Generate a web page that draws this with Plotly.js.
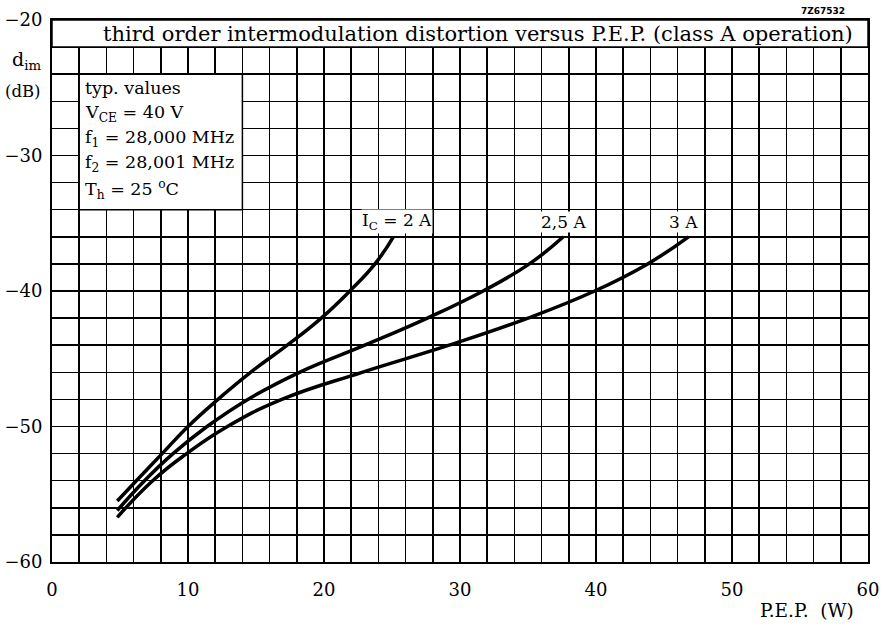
<!DOCTYPE html>
<html><head><meta charset="utf-8">
<script src="https://cdn.plot.ly/plotly-3.0.1.min.js"></script>
<style>html,body{margin:0;padding:0;background:#fff}</style>
</head><body><div id="chart" style="width:883px;height:627px"></div>
<script>
// P.E.P. (W) and d_im (dB) for each collector current
const pep2A   = [4.8, 6.2, 8.1, 10.0, 12.2, 14.6, 17.3, 19.8, 21.9, 23.75, 25.1];
const dim2A   = [-55.5, -54, -52, -50, -48, -46, -44, -42, -40, -38, -36];
const pep25A  = [4.8, 6.8, 8.9, 11.4, 14.4, 18.2, 23.0, 27.6, 31.7, 35.1, 37.6];
const dim25A  = [-56.2, -54, -52, -50, -48, -46, -44, -42, -40, -38, -36];
const pep3A   = [4.8, 7.4, 9.9, 12.9, 16.9, 22.8, 29.2, 35.0, 39.9, 43.8, 46.8];
const dim3A   = [-56.7, -54, -52, -50, -48, -46, -44, -42, -40, -38, -36];
const curveLabels = ['I<sub>C</sub> = 2 A', '2,5 A', '3 A'];
const xTicks = [0, 10, 20, 30, 40, 50, 60];
const yTicks = [-20, -30, -40, -50, -60];
const infoLines = ['typ. values', 'V<sub>CE</sub> = 40 V', 'f<sub>1</sub> = 28,000 MHz',
                   'f<sub>2</sub> = 28,001 MHz', 'T<sub>h</sub> = 25 <sup>o</sup>C'];
const titleText = 'third order intermodulation distortion versus P.E.P. (class A operation)';

const FONT = 'DejaVu Serif, Liberation Serif, serif';
const lineStyle = {color: '#000', width: 3.5, shape: 'spline', smoothing: 1.3};
const traces = [
  {x: pep2A, y: dim2A, mode: 'lines', line: lineStyle, hoverinfo: 'skip'},
  {x: pep25A, y: dim25A, mode: 'lines', line: lineStyle, hoverinfo: 'skip'},
  {x: pep3A, y: dim3A, mode: 'lines', line: lineStyle, hoverinfo: 'skip'}
];

// grid every 2 units; labels only on the listed ticks
const xGrid = [], yGrid = [];
for (let v = 0; v <= 60; v += 2) xGrid.push(v);
for (let v = -60; v <= -20; v += 2) yGrid.push(v);
const xText = xGrid.map(v => xTicks.includes(v) ? String(v) : '');
const yText = yGrid.map(v => yTicks.includes(v) ? '\u2212' + Math.abs(v) : '');

const annotations = [];
annotations.push({xref: 'x', yref: 'y', x: 31.3, y: -21, text: titleText, showarrow: false,
  font: {family: FONT, size: 21, color: '#000'}, xanchor: 'center', yanchor: 'middle'});
infoLines.forEach((t, i) => annotations.push({xref: 'x', yref: 'y', x: 2.3, y: -25 - i * 1.87,
  text: t, showarrow: false, xanchor: 'left', yanchor: 'middle',
  font: {family: FONT, size: 17.5, color: '#000'}}));
const labelX = [25.4, 37.6, 46.4];
curveLabels.forEach((t, i) => annotations.push({xref: 'x', yref: 'y', x: labelX[i], y: -34.9,
  text: t, showarrow: false, xanchor: 'center', yanchor: 'middle', bgcolor: '#fff', borderpad: 0,
  font: {family: FONT, size: 17, color: '#000'}}));
annotations.push({xref: 'paper', yref: 'paper', x: -0.011, y: 0.925, text: 'd<sub>im</sub>',
  xanchor: 'right', yanchor: 'middle',
  showarrow: false, font: {family: FONT, size: 19, color: '#000'}});
annotations.push({xref: 'paper', yref: 'paper', x: -0.011, y: 0.868, text: '(dB)',
  xanchor: 'right', yanchor: 'middle',
  showarrow: false, font: {family: FONT, size: 16.5, color: '#000'}});
annotations.push({xref: 'paper', yref: 'paper', x: 0.985, y: -0.09, text: 'P.E.P.  (W)',
  xanchor: 'right', yanchor: 'middle',
  showarrow: false, font: {family: FONT, size: 18.5, color: '#000'}});
annotations.push({xref: 'paper', yref: 'paper', x: 0.945, y: 1.003, text: '<b>7Z67532</b>',
  showarrow: false, xanchor: 'center', yanchor: 'bottom', font: {family: 'DejaVu Sans', size: 9, color: '#000'}});

const layout = {
  width: 883, height: 627,
  margin: {l: 52, r: 15, t: 20, b: 65},
  paper_bgcolor: '#fff', plot_bgcolor: '#fff',
  showlegend: false,
  xaxis: {range: [0, 60], tickmode: 'array', tickvals: xGrid, ticktext: xText, showgrid: true,
    gridcolor: '#000', gridwidth: 1.5, zeroline: false, showline: true, linecolor: '#000',
    linewidth: 2, mirror: true, ticks: '', ticklabelstandoff: 10,
    tickfont: {family: FONT, size: 18, color: '#000'}, fixedrange: true},
  yaxis: {range: [-60, -20], tickmode: 'array', tickvals: yGrid, ticktext: yText,
    showgrid: true, gridcolor: '#000', gridwidth: 1.5, zeroline: false, showline: true,
    linecolor: '#000', linewidth: 2, mirror: true, ticks: '', ticklabelstandoff: 4,
    tickfont: {family: FONT, size: 18, color: '#000'}, fixedrange: true},
  shapes: [
    {type: 'rect', xref: 'x', yref: 'y', x0: 0, x1: 60, y0: -22, y1: -20,
     fillcolor: '#fff', line: {color: '#000', width: 1.5}, layer: 'above'},
    {type: 'rect', xref: 'x', yref: 'y', x0: 2, x1: 14, y0: -34, y1: -24,
     fillcolor: '#fff', line: {color: '#000', width: 1.5}, layer: 'above'}
  ],
  annotations: annotations
};
Plotly.newPlot('chart', traces, layout, {staticPlot: true, displayModeBar: false});
</script></body></html>
